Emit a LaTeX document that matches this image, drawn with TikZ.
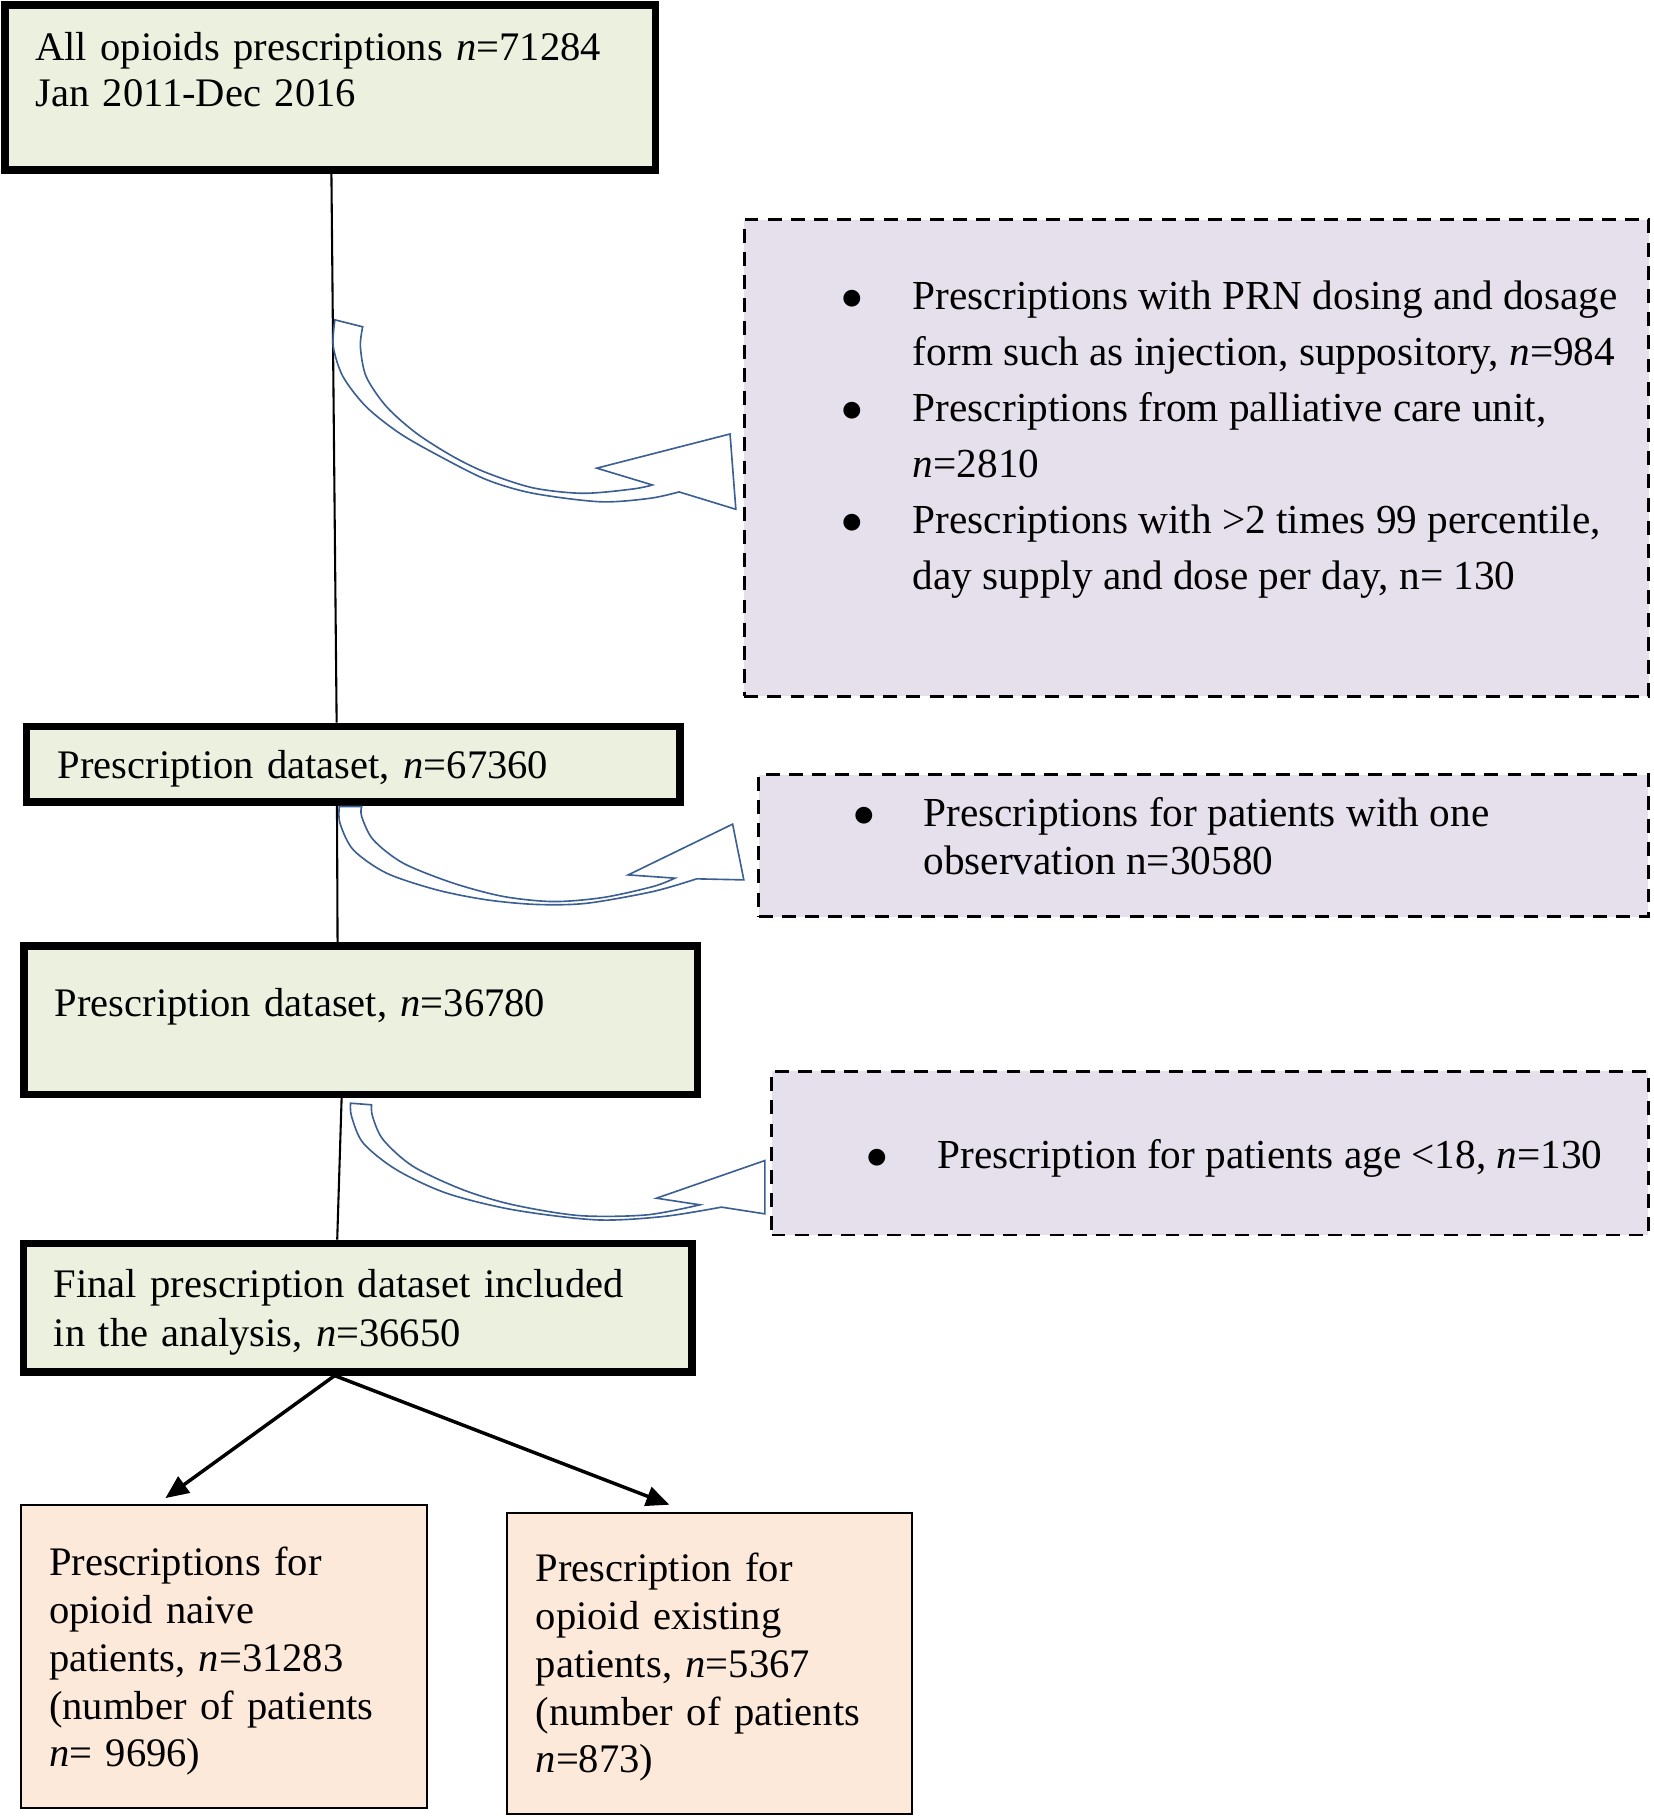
\documentclass[tikz,border=0pt]{standalone}
\usepackage{fontspec}
\setmainfont{Liberation Serif}
\usepackage{tikz}
\usetikzlibrary{arrows.meta,calc,positioning}

\definecolor{boxgreen}{HTML}{EBF1DE}
\definecolor{exclpurple}{HTML}{E5E0EC}
\definecolor{boxpeach}{HTML}{FDE9D9}
\definecolor{arrowblue}{HTML}{3B5F93}
\newcommand{\exclbullet}{\scalebox{1.08}{$\bullet$}}

\begin{document}
\begin{tikzpicture}[x=0.5pt,y=-0.5pt,
  mainbox/.style={rectangle,draw=black,line width=3.2pt,fill=boxgreen,inner sep=0pt},
  exclbox/.style={rectangle,draw=black,line width=1.2pt,dash pattern=on 6pt off 4pt,fill=exclpurple,inner sep=0pt},
  groupbox/.style={rectangle,draw=black,line width=0.8pt,fill=boxpeach,inner sep=0pt},
  boxtext/.style={anchor=base west,inner sep=0pt,align=left,text width=300pt,font=\fontsize{17.5}{#1}\selectfont},
  excltext/.style={anchor=base west,inner sep=0pt,font=\fontsize{17.8}{#1}\selectfont},
  vline/.style={draw=black,line width=0.9pt},
  splitarrow/.style={draw=black,line width=1.5pt,-{Triangle[length=10pt,width=8.5pt]}},
  blockarrow/.style={draw=arrowblue,fill=white,line width=0.7pt,line join=miter}]
\useasboundingbox (0,0) rectangle (1427,1568);
%Boxes
\node at (285,75.5) [mainbox,minimum width=280.8pt,minimum height=71.3pt] (all) {};
\node at (304.8,659.45) [mainbox,minimum width=282pt,minimum height=32.75pt] (ds1) {};
\node at (311.3,880.45) [mainbox,minimum width=290.5pt,minimum height=63.95pt] (ds2) {};
\node at (308.8,1128.4) [mainbox,minimum width=288.3pt,minimum height=55.5pt] (final) {};
\node at (193.25,1429.5) [groupbox,minimum width=175.25pt,minimum height=130.5pt] (naive) {};
\node at (612.3,1435.4) [groupbox,minimum width=175pt,minimum height=130.1pt] (exist) {};
\node at (1032.5,395.25) [exclbox,minimum width=390.3pt,minimum height=205.55pt] (excl1) {};
\node at (1038.65,729.75) [exclbox,minimum width=383.85pt,minimum height=61.35pt] (excl2) {};
\node at (1044.15,995.1) [exclbox,minimum width=378.35pt,minimum height=70.7pt] (excl3) {};
%Box Texts
\node at (30,52) [boxtext=20pt] (alltext) {All opioids prescriptions \textit{n}=71284\\Jan 2011-Dec 2016};
\node at (49.5,672) [boxtext=20pt] (ds1text) {Prescription dataset, \textit{n}=67360};
\node at (47,877) [boxtext=20pt] (ds2text) {Prescription dataset, \textit{n}=36780};
\node at (46,1120) [boxtext=21pt] (finaltext) {Final prescription dataset included\\in the analysis, \textit{n}=36650};
\node at (42,1360) [boxtext=20.6pt] (naivetext) {Prescriptions for\\opioid naive\\patients, \textit{n}=31283\\(number of patients\\\textit{n}= 9696)};
\node at (462,1365) [boxtext=20.6pt] (existtext) {Prescription for\\opioid existing\\patients, \textit{n}=5367\\(number of patients\\\textit{n}=873)};
% Exclusion Texts
\node at (725.8,267) [excltext=24.2pt] (excl1text) {\begin{tabular}[t]{@{}p{30.8pt}@{}l@{}}
\exclbullet & Prescriptions with PRN dosing and dosage\\
 & form such as injection, suppository, \textit{n}=984\\
\exclbullet & Prescriptions from palliative care unit,\\
 & \textit{n}=2810\\
\exclbullet & Prescriptions with >2 times 99 percentile,\\
 & day supply and dose per day, n= 130
\end{tabular}};
\node at (735.7,713) [excltext=20.7pt] (excl2text) {\begin{tabular}[t]{@{}p{30.4pt}@{}l@{}}
\exclbullet & Prescriptions for patients with one\\
 & observation n=30580
\end{tabular}};
\node at (747.7,1008.5) [excltext=20.5pt] (excl3text) {\begin{tabular}[t]{@{}p{30.4pt}@{}l@{}}
\exclbullet & Prescription for patients age <18, \textit{n}=130
\end{tabular}};
%Connections
\draw [vline] ($(all.south)+(1,0)$) -- ($(ds1.north)+(-14.3,0)$);
\draw [vline] ($(ds1.south)+(-14,0)$) -- ($(ds2.north)+(-20,0)$);
\draw [vline] ($(ds2.south)+(-16.5,0)$) -- ($(final.north)+(-17.8,0)$);
\draw [splitarrow] ($(final.south)+(-20,0)$) -- ($(naive.north)+(-50.5,-5.4)$);
\draw [splitarrow] ($(final.south)+(-20,0)$) -- ($(exist.north)+(-34.6,-6)$);
% Curved Exclusion Arrows
\filldraw [blockarrow] (289,276) -- plot[smooth] coordinates {(313,282) (311,299) (316,325) (333.6,351) (359.5,374) (391,394) (420,408) (460,421) (503,425.7) (546,422) (563,418.5)}
  -- (515,404) -- (630,374.5) -- (635,439.5)
  -- plot[smooth] coordinates {(586,424.5) (561,430) (518,433) (460,425.7) (420,414) (380,394) (345,374) (316,351) (296,325) (287.6,299) (289,276)} -- cycle;
\filldraw [blockarrow] (292.8,696) -- plot[smooth] coordinates {(312.1,696) (312.1,704.6) (322.1,724.7) (348,744.9) (391.1,762.1) (434.3,773.6) (477.4,778) (520.5,774.5) (563.7,765) (582.4,757.8)}
  -- (542.1,755) -- (632.2,711.2) -- (641.9,759.3)
  -- plot[smooth] coordinates {(601.1,758.4) (563.7,769.3) (506.2,779.5) (463,780.5) (419.9,776.5) (376.8,767.9) (333.6,753.5) (304.9,733.4) (293.4,710.4) (292.8,696)} -- cycle;
\filldraw [blockarrow] (302.5,952) -- plot[smooth] coordinates {(320.6,953.4) (321.5,963.5) (330.7,983.6) (356.6,1006.6) (399.7,1026.8) (442.9,1039.7) (500,1049) (558,1048.4) (604,1039.7)}
  -- (566.5,1034) -- (660,1001.5) -- (660,1047.5)
  -- plot[smooth] coordinates {(622.6,1041.7) (572.3,1049.8) (514.8,1052.7) (442.9,1044) (385.4,1029.7) (342.2,1009.5) (313.5,986.5) (303.4,963.5) (302.5,952)} -- cycle;
\end{tikzpicture}
\end{document}
